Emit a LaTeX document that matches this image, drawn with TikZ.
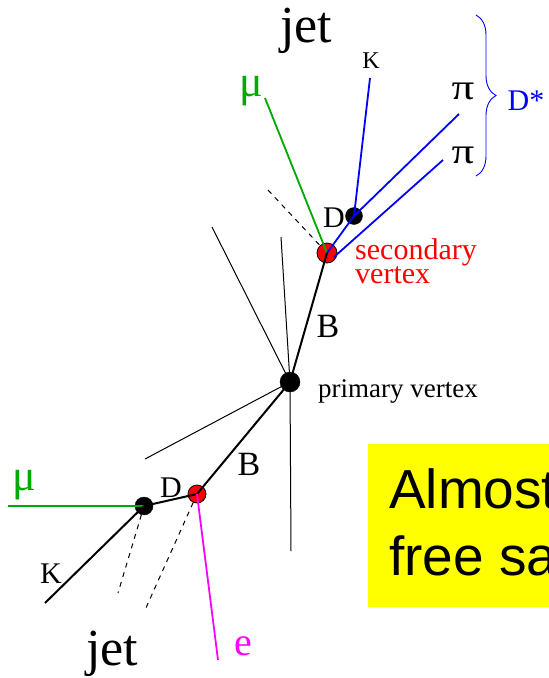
\documentclass[tikz,border=0pt]{standalone}
\usepackage{fontspec}
\setmainfont{Liberation Serif}
\newfontfamily\boxfont{Liberation Sans}
\usetikzlibrary{decorations.pathreplacing}
\definecolor{trkgreen}{RGB}{0,170,0}
\definecolor{trkblue}{RGB}{0,0,255}
\definecolor{vred}{RGB}{255,0,0}
\definecolor{emag}{RGB}{255,0,255}
\definecolor{boxyellow}{RGB}{255,255,0}
\tikzset{
  vtxblack/.style={circle,fill=black,draw=black,inner sep=0pt,minimum size=#1},
  vtxred/.style={circle,fill=vred,draw=black,line width=0.8pt,inner sep=0pt,minimum size=#1},
  thick track/.style={line width=2pt,black},
  thin track/.style={line width=1pt,black},
  greentrk/.style={line width=1.8pt,trkgreen},
  bluetrk/.style={line width=1.8pt,trkblue},
  dashtrk/.style={line width=1pt,black,dash pattern=on 5pt off 5pt},
  lbl/.style={inner sep=0pt,font=\fontsize{#1}{#1}\selectfont},
}
\begin{document}
\begin{tikzpicture}[x=1pt,y=-1pt]
\useasboundingbox (0,0) rectangle (549,678);
\clip (0,0) rectangle (549,678);
% yellow box
\fill[boxyellow] (368,444) rectangle (570,607);
\node[anchor=base west,inner sep=0pt,align=left,font=\boxfont\fontsize{55}{67}\selectfont] (almost) at (389,575) {Almost\\free sa};
% vertices
\node[vtxblack=20pt] (pv) at (290,382) {};
\node[vtxred=20pt] (sv) at (327,253) {};
\node[vtxblack=17pt] (dt) at (354,216) {};
\node[vtxred=18pt] (sv2) at (197,494) {};
\node[vtxblack=18pt] (d2) at (144,506) {};
% free ends
\coordinate (t1) at (212,227);
\coordinate (t2) at (281,237);
\coordinate (t3) at (291,551);
\coordinate (t4) at (145,459);
\coordinate (muend) at (265,98);
\coordinate (kend) at (370,78);
\coordinate (pi1end) at (459,114);
\coordinate (pi2end) at (443,160);
\coordinate (pi2start) at (334,257);
\coordinate (dashtop) at (268,190);
\coordinate (mu2end) at (8,506);
\coordinate (k2end) at (45,603);
\coordinate (dash1end) at (118,593);
\coordinate (dash2end) at (145,610);
\coordinate (eend) at (218,660);
% tracks from primary vertex
\draw[thin track] (pv.center) -- (t1);
\draw[thin track] (pv.center) -- (t2);
\draw[thin track] (pv.center) -- (t3);
\draw[thin track] (pv.center) -- (t4);
\draw[thick track] (pv.center) -- (sv.center);
\draw[thick track] (pv.center) -- (sv2.center);
% upper decay
\draw[dashtrk] (dashtop) -- (sv);
\draw[greentrk] (sv.center) -- (muend);
\draw[bluetrk] (sv.center) -- (dt.center);
\draw[bluetrk] (dt.center) -- (kend);
\draw[bluetrk] (dt.center) -- (pi1end);
\draw[bluetrk] (pi2start) -- (pi2end);
% lower decay
\draw[thick track] (sv2.center) -- (d2.center);
\draw[greentrk] (d2.center) -- (mu2end);
\draw[thick track] (d2.center) -- (k2end);
\draw[dashtrk] (d2) -- (dash1end);
\draw[dashtrk] (sv2) -- (dash2end);
\draw[line width=1.8pt,emag] (sv2.center) -- (eend);
% brace
\draw[trkblue,line width=0.9pt,decorate,decoration={brace,amplitude=20pt}] (476,15) -- (476,176);
% labels
\node[lbl=52,anchor=base] (jet1) at (306,42) {jet};
\node[lbl=52,anchor=base] (jet2) at (112,665) {jet};
\node[lbl=24,anchor=base] (k1) at (371,68) {K};
\node[lbl=36,xscale=1.25] (pi1) at (463,91) {π};
\node[lbl=36,xscale=1.25] (pi2) at (463,155) {π};
\node[lbl=44,text=trkgreen] (mu1) at (251,91) {μ};
\node[lbl=30,anchor=base,text=trkblue] (dstar) at (526,110) {D*};
\node[lbl=30,anchor=base] (dlab) at (334,227) {D};
\node[anchor=base west,inner sep=0pt,align=left,text=vred,font=\fontsize{30}{24}\selectfont] (sec) at (355,283) {secondary\\vertex};
\node[lbl=34,anchor=base] (b1) at (328,337) {B};
\node[lbl=34,anchor=base] (b2) at (249,475) {B};
\node[lbl=27,anchor=base west] (pvlab) at (318,397) {primary vertex};
\node[lbl=30,anchor=base] (d2lab) at (171,497) {D};
\node[lbl=44,text=trkgreen] (mu2) at (24,485) {μ};
\node[lbl=30,anchor=base] (k2) at (51,583) {K};
\node[lbl=40,text=emag] (elab) at (243,646) {e};
\end{tikzpicture}
\end{document}
